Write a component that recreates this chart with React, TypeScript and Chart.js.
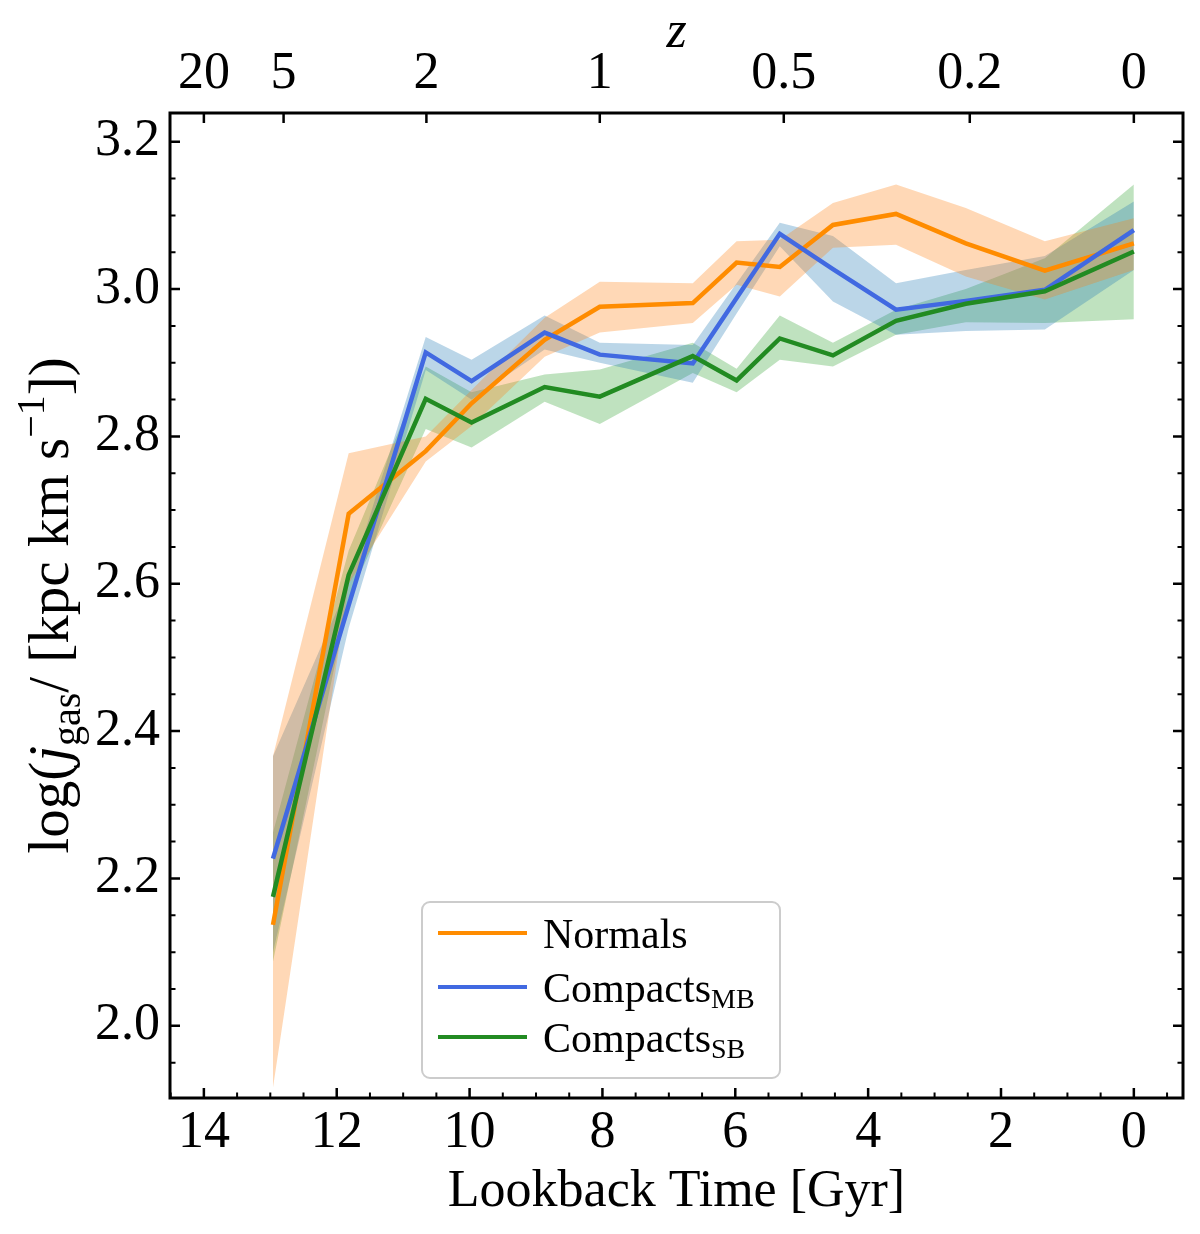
import React, { useEffect, useRef } from 'react';
import { Chart, registerables } from 'chart.js';

Chart.register(...registerables);

// ---- data ----
const lookback = [12.96, 11.82, 10.66, 9.97, 8.87, 8.04, 6.64, 5.98, 5.33, 4.53, 3.58, 2.53, 1.34, 0.0];

const normals = [2.137, 2.695, 2.78, 2.845, 2.931, 2.976, 2.981, 3.036, 3.03, 3.087, 3.102, 3.062, 3.025, 3.062];
const normalsLo = [1.916, 2.6, 2.766, 2.814, 2.908, 2.941, 2.954, 3.006, 2.99, 3.056, 3.06, 3.017, 2.986, 3.026];
const normalsHi = [2.366, 2.777, 2.8, 2.863, 2.961, 3.01, 3.008, 3.065, 3.067, 3.117, 3.142, 3.11, 3.065, 3.096];

const compactsMB = [2.227, 2.571, 2.914, 2.875, 2.941, 2.911, 2.899, 2.988, 3.075, 3.027, 2.972, 2.984, 2.999, 3.08];
const compactsMBLo = [2.1, 2.54, 2.89, 2.85, 2.918, 2.9, 2.873, 2.967, 3.058, 2.983, 2.938, 2.943, 2.945, 3.026];
const compactsMBHi = [2.366, 2.6, 2.935, 2.904, 2.964, 2.927, 2.924, 3.008, 3.09, 3.072, 3.008, 3.026, 3.045, 3.119];

const compactsSB = [2.175, 2.612, 2.851, 2.819, 2.867, 2.854, 2.909, 2.876, 2.933, 2.91, 2.957, 2.98, 2.997, 3.051];
const compactsSBLo = [2.087, 2.58, 2.81, 2.785, 2.847, 2.817, 2.886, 2.86, 2.904, 2.895, 2.938, 2.955, 2.954, 2.959];
const compactsSBHi = [2.262, 2.645, 2.895, 2.86, 2.884, 2.891, 2.927, 2.892, 2.964, 2.927, 2.972, 3.0, 3.042, 3.142];

const xTicks = [14, 12, 10, 8, 6, 4, 2, 0];
const yTicks = [2.0, 2.2, 2.4, 2.6, 2.8, 3.0, 3.2];
const zTickPositions = [14.0, 12.8, 10.65, 8.04, 5.27, 2.47, 0];
const zTickLabels = ['20', '5', '2', '1', '0.5', '0.2', '0'];

const seriesNames = ['Normals', 'Compacts', 'Compacts'];
const seriesSubs = ['', 'MB', 'SB'];

const X_MIN = -0.74;
const X_MAX = 14.51;
const Y_MIN = 1.902;
const Y_MAX = 3.239;

const FONT = "'Liberation Serif', 'DejaVu Serif', 'Times New Roman', serif";
const LINE_COLORS = ['#ff8c00', '#4169e1', '#228b22'];
const BAND_COLORS = ['rgba(255,127,14,0.3)', 'rgba(31,119,180,0.3)', 'rgba(44,160,44,0.3)'];

const pts = (arr: number[]) => lookback.map((x, i) => ({ x, y: arr[i] }));

const framePlugin = {
  id: 'frameTicks',
  afterDraw(chart: any) {
    const { ctx, chartArea: ca, scales } = chart;
    const xs = scales.x;
    const ys = scales.y;
    ctx.save();
    ctx.strokeStyle = '#000';
    const major = 10;
    const minor = 5.5;
    ctx.lineWidth = 2.5;
    ctx.beginPath();
    xTicks.forEach((v) => {
      const px = xs.getPixelForValue(v);
      ctx.moveTo(px, ca.bottom);
      ctx.lineTo(px, ca.bottom - major);
    });
    yTicks.forEach((v) => {
      const py = ys.getPixelForValue(v);
      ctx.moveTo(ca.left, py);
      ctx.lineTo(ca.left + major, py);
      ctx.moveTo(ca.right, py);
      ctx.lineTo(ca.right - major, py);
    });
    zTickPositions.forEach((v) => {
      const px = xs.getPixelForValue(v);
      ctx.moveTo(px, ca.top);
      ctx.lineTo(px, ca.top + major);
    });
    ctx.stroke();
    ctx.lineWidth = 2;
    ctx.beginPath();
    for (let k = Math.ceil(X_MIN * 2); k <= Math.floor(X_MAX * 2); k++) {
      const v = k / 2;
      if (Math.abs(v / 2 - Math.round(v / 2)) < 1e-9) continue;
      const px = xs.getPixelForValue(v);
      ctx.moveTo(px, ca.bottom);
      ctx.lineTo(px, ca.bottom - minor);
    }
    for (let k = Math.ceil(Y_MIN * 20); k <= Math.floor(Y_MAX * 20); k++) {
      if (k % 4 === 0) continue;
      const py = ys.getPixelForValue(k / 20);
      ctx.moveTo(ca.left, py);
      ctx.lineTo(ca.left + minor, py);
      ctx.moveTo(ca.right, py);
      ctx.lineTo(ca.right - minor, py);
    }
    ctx.stroke();
    ctx.lineWidth = 3;
    ctx.strokeRect(ca.left, ca.top, ca.right - ca.left, ca.bottom - ca.top);
    ctx.restore();
  },
};

const yTitlePlugin = {
  id: 'yTitle',
  afterDraw(chart: any) {
    const { ctx, chartArea: ca } = chart;
    const big = 57;
    const small = 40;
    const pieces = [
      { t: 'log(', f: `${big}px ${FONT}`, dy: 0 },
      { t: 'j', f: `italic ${big}px ${FONT}`, dy: 0 },
      { t: 'gas', f: `${small}px ${FONT}`, dy: 12 },
      { t: '/ [kpc km s', f: `${big}px ${FONT}`, dy: 0 },
      { t: '\u22121', f: `${small}px ${FONT}`, dy: -24 },
      { t: '])', f: `${big}px ${FONT}`, dy: 0 },
    ];
    ctx.save();
    let total = 0;
    const widths = pieces.map((p) => {
      ctx.font = p.f;
      const w = ctx.measureText(p.t).width;
      total += w;
      return w;
    });
    const cy = (ca.top + ca.bottom) / 2;
    ctx.translate(68, cy);
    ctx.rotate(-Math.PI / 2);
    ctx.fillStyle = '#000';
    ctx.textBaseline = 'alphabetic';
    ctx.textAlign = 'left';
    let u = -total / 2;
    pieces.forEach((p, i) => {
      ctx.font = p.f;
      ctx.fillText(p.t, u, p.dy);
      u += widths[i];
    });
    ctx.restore();
  },
};

const legendPlugin = {
  id: 'customLegend',
  afterDraw(chart: any) {
    const { ctx, chartArea: ca } = chart;
    const left = ca.left + 252;
    const top = ca.top + 789;
    const w = 358;
    const h = 176;
    const r = 8;
    ctx.save();
    ctx.beginPath();
    ctx.moveTo(left + r, top);
    ctx.lineTo(left + w - r, top);
    ctx.arcTo(left + w, top, left + w, top + r, r);
    ctx.lineTo(left + w, top + h - r);
    ctx.arcTo(left + w, top + h, left + w - r, top + h, r);
    ctx.lineTo(left + r, top + h);
    ctx.arcTo(left, top + h, left, top + h - r, r);
    ctx.lineTo(left, top + r);
    ctx.arcTo(left, top, left + r, top, r);
    ctx.closePath();
    ctx.fillStyle = 'rgba(255,255,255,0.8)';
    ctx.fill();
    ctx.strokeStyle = '#cccccc';
    ctx.lineWidth = 2;
    ctx.stroke();
    const rowY = [31, 85, 135];
    seriesNames.forEach((name, i) => {
      const y = top + rowY[i];
      ctx.strokeStyle = LINE_COLORS[i];
      ctx.lineWidth = 4;
      ctx.beginPath();
      ctx.moveTo(left + 16, y);
      ctx.lineTo(left + 105, y);
      ctx.stroke();
      ctx.fillStyle = '#000';
      ctx.textBaseline = 'alphabetic';
      ctx.font = `42px ${FONT}`;
      const base = y + 15;
      ctx.fillText(name, left + 121, base);
      if (seriesSubs[i]) {
        const wMain = ctx.measureText(name).width;
        ctx.font = `28px ${FONT}`;
        ctx.fillText(seriesSubs[i], left + 121 + wMain, base + 6);
      }
    });
    ctx.restore();
  },
};

export default function App() {
  const ref = useRef<HTMLCanvasElement | null>(null);
  useEffect(() => {
    document.body.style.margin = '0';
    const canvas = ref.current;
    if (!canvas) return;
    const bandSet = (data: number[], i: number, fill: any) => ({
      data: pts(data),
      borderColor: 'rgba(0,0,0,0)',
      backgroundColor: BAND_COLORS[i],
      borderWidth: 1,
      pointRadius: 0,
      fill,
      order: 10,
    });
    const lineSet = (data: number[], i: number, order: number) => ({
      data: pts(data),
      borderColor: LINE_COLORS[i],
      backgroundColor: LINE_COLORS[i],
      borderWidth: 4.5,
      pointRadius: 0,
      fill: false,
      order,
      borderJoinStyle: 'miter' as const,
    });
    const tickFont = { family: FONT, size: 52 };
    const chart = new Chart(canvas, {
      type: 'line',
      data: {
        datasets: [
          bandSet(normalsLo, 0, false),
          bandSet(normalsHi, 0, '-1'),
          bandSet(compactsMBLo, 1, false),
          bandSet(compactsMBHi, 1, '-1'),
          bandSet(compactsSBLo, 2, false),
          bandSet(compactsSBHi, 2, '-1'),
          lineSet(normals, 0, 3),
          lineSet(compactsMB, 1, 2),
          lineSet(compactsSB, 2, 1),
        ],
      },
      options: {
        animation: false,
        responsive: false,
        devicePixelRatio: 1,
        layout: { padding: { left: 0, right: 17, top: 0, bottom: 0 } },
        plugins: {
          legend: { display: false },
          tooltip: { enabled: false },
          filler: { drawTime: 'beforeDatasetsDraw' },
        },
        scales: {
          x: {
            type: 'linear',
            position: 'bottom',
            min: X_MIN,
            max: X_MAX,
            reverse: true,
            grid: { display: false, drawTicks: false },
            border: { display: false },
            afterBuildTicks: (s: any) => {
              s.ticks = xTicks.map((v) => ({ value: v }));
            },
            afterFit: (s: any) => {
              s.height = 136;
            },
            ticks: {
              font: tickFont,
              color: '#000',
              padding: 4,
              maxRotation: 0,
              autoSkip: false,
              callback: (v: any) => String(v),
            },
            title: {
              display: true,
              text: 'Lookback Time [Gyr]',
              color: '#000',
              font: { family: FONT, size: 52 },
              padding: { top: 0, bottom: 10 },
            },
          },
          x2: {
            type: 'linear',
            position: 'top',
            min: X_MIN,
            max: X_MAX,
            reverse: true,
            grid: { display: false, drawTicks: false },
            border: { display: false },
            afterBuildTicks: (s: any) => {
              s.ticks = zTickPositions.map((v) => ({ value: v }));
            },
            afterFit: (s: any) => {
              s.height = 113;
            },
            ticks: {
              font: tickFont,
              color: '#000',
              padding: 7,
              maxRotation: 0,
              autoSkip: false,
              callback: (_v: any, idx: number) => zTickLabels[idx],
            },
            title: {
              display: true,
              text: 'z',
              color: '#000',
              font: { family: FONT, size: 52, style: 'italic' },
              padding: { top: 2, bottom: 0 },
            },
          },
          y: {
            type: 'linear',
            position: 'left',
            min: Y_MIN,
            max: Y_MAX,
            grid: { display: false, drawTicks: false },
            border: { display: false },
            afterBuildTicks: (s: any) => {
              s.ticks = yTicks.map((v) => ({ value: v }));
            },
            afterFit: (s: any) => {
              s.width = 170;
            },
            ticks: {
              font: tickFont,
              color: '#000',
              padding: 10,
              autoSkip: false,
              callback: (v: any) => Number(v).toFixed(1),
            },
          },
        },
      },
      plugins: [framePlugin, yTitlePlugin, legendPlugin],
    } as any);
    return () => chart.destroy();
  }, []);
  return (
    <div style={{ width: 1200, height: 1234 }}>
      <canvas ref={ref} width={1200} height={1234} style={{ display: 'block', width: 1200, height: 1234 }} />
    </div>
  );
}
